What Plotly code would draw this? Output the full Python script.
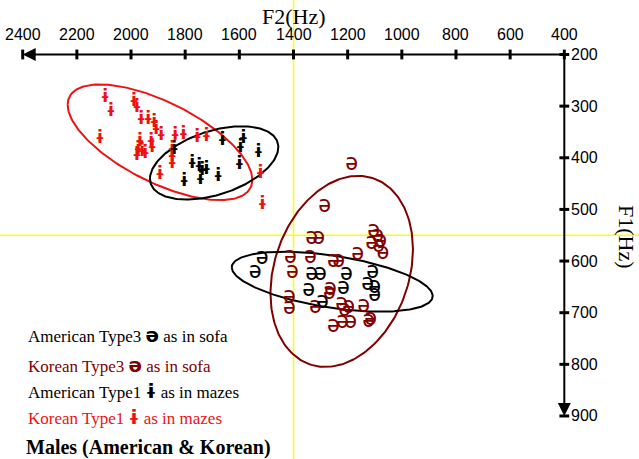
import numpy as np
import plotly.graph_objects as go

# ---- Formant measurements (Hz) -------------------------------------------
# Korean speakers, Type1 vowel (barred i)
kor_t1_f2 = [2096, 2074, 2115, 1989, 1978, 1963, 1937, 1915, 1907, 1889, 1967, 1974, 1959,
             1978, 1948, 1926, 1922, 1837, 1848, 1848, 1848, 1807, 1756, 1722, 1893, 1522, 1515]
kor_t1_f1 = [283, 311, 363, 291, 303, 326, 326, 332, 345, 357, 369, 384, 388,
             396, 392, 369, 380, 357, 384, 398, 411, 355, 361, 359, 433, 431, 491]

# American speakers, Type1 vowel
am_t1_f2 = [1841, 1663, 1585, 1596, 1530, 1600, 1774, 1748, 1737, 1722, 1744, 1678, 1804]
am_t1_f1 = [384, 367, 363, 380, 390, 413, 411, 417, 425, 423, 442, 437, 446]

# Korean speakers, Type3 vowel (schwa)
kor_t3_f2 = [1185, 1285, 1333, 1307, 1104, 1089, 1078, 1085, 1070, 1111, 1163, 1337, 1411, 1404,
             1415, 1415, 1252, 1233, 1263, 1267, 1319, 1222, 1211, 1196, 1141, 1115, 1252, 1219,
             1189, 1122]
kor_t3_f1 = [413, 493, 555, 555, 543, 551, 561, 572, 584, 565, 586, 592, 592, 621,
             671, 691, 601, 601, 654, 663, 689, 683, 696, 689, 687, 712, 727, 718,
             718, 716]

# American speakers, Type3 vowel
am_t3_f2 = [1515, 1541, 1333, 1300, 1204, 1344, 1215, 1293, 1107, 1126, 1100, 1100]
am_t3_f1 = [594, 621, 625, 625, 625, 656, 652, 679, 621, 644, 650, 667]

# Spread ellipses: centre F2, centre F1, F2 half-range, F1 half-range, correlation
ell_kor_t1 = (1893, 370, 341, 112, -0.65)
ell_am_t1 = (1693, 410, 237, 71, 0.43)
ell_kor_t3 = (1222, 620, 263, 185, 0.23)
ell_am_t3 = (1257, 640, 371, 58, -0.48)

# Axis ticks
f2_ticks = [2400, 2200, 2000, 1800, 1600, 1400, 1200, 1000, 800, 600, 400]
f1_ticks = [200, 300, 400, 500, 600, 700, 800, 900]
f2_ref, f1_ref = 1400, 550

RED = "#ee1111"
MAROON = "#800000"
BLACK = "#000000"


def ellipse(cx, cy, sx, sy, rho, n=240):
    t = np.linspace(0, 2 * np.pi, n)
    x = cx + sx * np.cos(t)
    y = cy + sy * (rho * np.cos(t) + np.sqrt(1 - rho ** 2) * np.sin(t))
    return x, y


fig = go.Figure()

# reference cross-hair
fig.add_shape(type="line", xref="x", yref="paper", x0=f2_ref, x1=f2_ref, y0=0, y1=1,
              line=dict(color="#ffff00", width=1.5), layer="below")
fig.add_shape(type="line", xref="paper", yref="y", x0=0, x1=1, y0=f1_ref, y1=f1_ref,
              line=dict(color="#ffff00", width=1.5), layer="below")

for params, col in [(ell_kor_t1, RED), (ell_am_t1, BLACK), (ell_kor_t3, MAROON), (ell_am_t3, BLACK)]:
    ex, ey = ellipse(*params)
    fig.add_trace(go.Scatter(x=ex, y=ey, mode="lines", line=dict(color=col, width=2),
                             hoverinfo="skip", showlegend=False))

glyph_i = dict(family="DejaVu Sans", size=17, weight="bold")
glyph_e = dict(family="Noto Sans", size=23)

for xs, ys, ch, col, fnt in [
    (kor_t3_f2, kor_t3_f1, "ə", MAROON, glyph_e),
    (am_t3_f2, am_t3_f1, "ə", BLACK, glyph_e),
    (kor_t1_f2, kor_t1_f1, "ɨ", RED, glyph_i),
    (am_t1_f2, am_t1_f1, "ɨ", BLACK, glyph_i),
]:
    fig.add_trace(go.Scatter(x=xs, y=ys, mode="text", text=[ch] * len(xs),
                             textposition="middle center",
                             textfont=dict(color=col, **fnt), showlegend=False))

# tick marks on the two axes
fig.add_trace(go.Scatter(x=f2_ticks, y=[f1_ticks[0]] * len(f2_ticks), mode="markers",
                         marker=dict(symbol="line-ns", size=7, line=dict(width=3, color=BLACK)),
                         showlegend=False, hoverinfo="skip"))
fig.add_trace(go.Scatter(x=[f2_ticks[-1]] * len(f1_ticks), y=f1_ticks, mode="markers",
                         marker=dict(symbol="line-ew", size=7, line=dict(width=3, color=BLACK)),
                         showlegend=False, hoverinfo="skip"))

ann = []
# axis lines with arrow heads
ann.append(dict(x=f2_ticks[0], y=f1_ticks[0], ax=f2_ticks[-1], ay=f1_ticks[0], xref="x", yref="y",
                axref="x", ayref="y", text="", showarrow=True, arrowhead=2, arrowsize=1.3,
                arrowwidth=2, arrowcolor=BLACK, standoff=0))
ann.append(dict(x=f2_ticks[-1], y=f1_ticks[-1], ax=f2_ticks[-1], ay=f1_ticks[0], xref="x", yref="y",
                axref="x", ayref="y", text="", showarrow=True, arrowhead=2, arrowsize=1.3,
                arrowwidth=2, arrowcolor=BLACK, standoff=0))

tick_font = dict(family="Liberation Sans", size=16, color=BLACK)
for v in f2_ticks:
    ann.append(dict(x=v, y=f1_ticks[0], xref="x", yref="y", text=str(v), showarrow=False,
                    xanchor="center", yanchor="middle", yshift=20, font=tick_font))
for v in f1_ticks:
    ann.append(dict(x=f2_ticks[-1], y=v, xref="x", yref="y", text=str(v), showarrow=False,
                    xanchor="left", yanchor="middle", xshift=5, font=tick_font))

W, H = 639, 459
serif = "Liberation Serif"
ann.append(dict(x=f2_ref, y=1 - 17 / H, xref="x", yref="paper", text="F2(Hz)", showarrow=False,
                xanchor="center", yanchor="middle", font=dict(family=serif, size=22, color=BLACK)))
ann.append(dict(x=627 / W, y=1 - 237 / H, xref="paper", yref="paper", text="F1(Hz)",
                showarrow=False, textangle=90, xanchor="center", yanchor="middle",
                font=dict(family=serif, size=22, color=BLACK)))

sym = "<span style='font-family:DejaVu Sans;font-weight:bold;font-size:20px'>{}</span>"
key_rows = [
    ("American Type3 " + sym.format("ə") + " as in sofa", BLACK, 335),
    ("Korean Type3 " + sym.format("ə") + " as in sofa", MAROON, 365),
    ("American Type1 " + sym.format("ɨ") + " as in mazes", BLACK, 391),
    ("Korean Type1 " + sym.format("ɨ") + " as in mazes", RED, 417),
]
for txt, col, py in key_rows:
    ann.append(dict(x=26 / W, y=1 - py / H, xref="paper", yref="paper", text=txt, showarrow=False,
                    xanchor="left", yanchor="middle", font=dict(family=serif, size=17, color=col)))
ann.append(dict(x=24 / W, y=1 - 447 / H, xref="paper", yref="paper",
                text="<b>Males (American &amp; Korean)</b>", showarrow=False,
                xanchor="left", yanchor="middle", font=dict(family=serif, size=20, color=BLACK)))

fig.update_layout(
    width=W, height=H, margin=dict(l=0, r=0, t=0, b=0),
    paper_bgcolor="white", plot_bgcolor="white",
    xaxis=dict(range=[2483.8, 124.2], visible=False, fixedrange=True),
    yaxis=dict(range=[983.3, 94.5], visible=False, fixedrange=True),
    annotations=ann, showlegend=False,
)

fig.write_html("out.html")
